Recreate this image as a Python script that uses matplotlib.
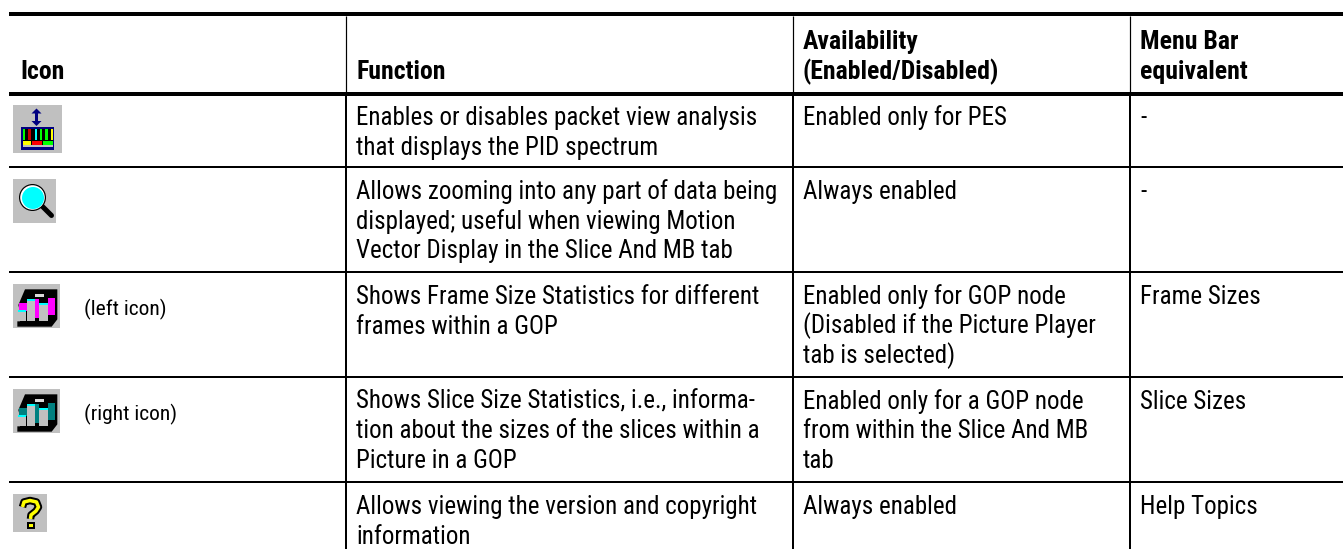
import matplotlib
matplotlib.use("Agg")
import matplotlib.pyplot as plt
from matplotlib.patches import Rectangle, Circle, Polygon

FONT = ['Roboto Condensed', 'Roboto', 'Liberation Sans']

headers = ["Icon", "Function", "Availability\n(Enabled/Disabled)", "Menu Bar\nequivalent"]
functions = [
    ["Enables or disables packet view analysis", "that displays the PID spectrum"],
    ["Allows zooming into any part of data being", "displayed; useful when viewing Motion", "Vector Display in the Slice And MB tab"],
    ["Shows Frame Size Statistics for different", "frames within a GOP"],
    ["Shows Slice Size Statistics, i.e., informa-", "tion about the sizes of the slices within a", "Picture in a GOP"],
    ["Allows viewing the version and copyright", "information"],
]
availability = [
    ["Enabled only for PES"],
    ["Always enabled"],
    ["Enabled only for GOP node", "(Disabled if the Picture Player", "tab is selected)"],
    ["Enabled only for a GOP node", "from within the Slice And MB", "tab"],
    ["Always enabled"],
]
menu = ["-", "-", "Frame Sizes", "Slice Sizes", "Help Topics"]
icon_notes = ["", "", "(left icon)", "(right icon)", ""]

fig = plt.figure(figsize=(13.43, 5.49), dpi=100)
ax = fig.add_axes([0, 0, 1, 1])
ax.set_xlim(0, 1343); ax.set_ylim(549, 0); ax.axis('off')
px = 0.72
FS = 25 * px
FSB = 25.7 * px

def hline(y, lw): ax.plot([9, 1343], [y, y], color='k', lw=lw * px, solid_capstyle='butt')
def vline(x, y0, y1, lw): ax.plot([x, x], [y0, y1], color='k', lw=lw * px, solid_capstyle='butt')
def rect(x0, y0, x1, y1, c, z=2):
    ax.add_patch(Rectangle((x0, y0), x1 - x0, y1 - y0, fc=c, ec='none', zorder=z))
def poly(pts, c, z=2):
    ax.add_patch(Polygon(pts, closed=True, fc=c, ec='none', zorder=z))

hline(14, 4); hline(94, 4)
for y in [166.7, 271.7, 376.7, 481.7]:
    hline(y, 2)
for x in [346, 793.3, 1129.5]:
    vline(x, 16, 92, 1.2)
    vline(x, 96, 549, 2)

row_base = [125, 199, 304, 409, 514]
step = 29.5
for i, r in enumerate(row_base):
    for j, s in enumerate(functions[i]):
        ax.text(356, r + j * step, s, family=FONT, fontsize=FS, va='baseline', color='k')
    for j, s in enumerate(availability[i]):
        ax.text(803, r + j * step, s, family=FONT, fontsize=FS, va='baseline', color='k')
    ax.text(1140, r, menu[i], family=FONT, fontsize=FS, va='baseline', color='k')
    if icon_notes[i]:
        ax.text(84, r + 11, icon_notes[i], family=FONT, fontsize=21.5 * px, va='baseline', color='k')

ax.text(20, 79, headers[0], family=FONT, fontsize=FSB, weight='bold', va='baseline')
ax.text(356, 79, headers[1], family=FONT, fontsize=FSB, weight='bold', va='baseline')
for x, h in [(803, headers[2]), (1140, headers[3])]:
    for j, s in enumerate(h.split("\n")):
        ax.text(x, 49 + j * 30, s, family=FONT, fontsize=FSB, weight='bold', va='baseline')

GREY = '#c0c0c0'
NAVY = '#000080'

# icon 1: packet view
rect(13, 105, 62, 153, GREY)
rect(35, 112, 38, 123, NAVY, 3)
poly([(31.5, 113.5), (36.5, 108.5), (41.5, 113.5)], NAVY, 3)
poly([(31.5, 121), (36.5, 126), (41.5, 121)], NAVY, 3)
rect(20.7, 126.5, 54.3, 149.5, NAVY, 3)
rect(22.5, 129, 53, 146, 'k', 4)
for x0, x1, c in [(22.5, 25, '#00ff00'), (28, 31, '#c00000'), (34.5, 36.5, '#00ffff'),
                  (39.5, 42, '#00ff00'), (45, 47.5, '#00ff00'), (50.5, 53, '#ffff00')]:
    rect(x0, 129, x1, 139.5, c, 5)
for x0, x1, c in [(22.5, 31, '#ffff00'), (31.5, 42, '#ff0000'), (43, 53, '#00ff00')]:
    rect(x0, 140.5, x1, 145, c, 5)
rect(22.5, 145, 53, 146.5, GREY, 5)

# icon 2: magnifier
rect(13, 179, 56, 223, GREY)
ax.plot([41, 51.5], [205, 215.5], color='k', lw=5 * px, solid_capstyle='round', zorder=3)
ax.add_patch(Circle((32.5, 197.5), 13.5, fc='k', ec='none', zorder=4))
ax.add_patch(Circle((32.5, 197.5), 12.3, fc='white', ec='none', zorder=5))
ax.add_patch(Circle((33, 198), 11, fc='#00ffff', ec='none', zorder=6))

# icons 3 and 4: bar statistics
def bars(top, accent):
    def P(x, y): return (10 + x / 3, top + y / 3)
    rect(13, top + 4, 60, top + 48, GREY)
    poly([P(45, 28), P(142, 28), P(142, 118), P(125, 140), P(22, 140), P(22, 124),
          P(30, 124), P(30, 95), P(25, 75)], 'k', 3)
    rect(*P(76, 42), *P(102, 50), '#d8d8d8', 4)
    for box in [(28, 68, 52, 92), (76, 56, 86, 115), (114, 55, 134, 105)]:
        rect(*P(box[0], box[1]), *P(box[2], box[3]), accent, 4)
    for box in [(24, 96, 48, 124), (52, 62, 76, 124), (86, 74, 114, 124)]:
        rect(*P(box[0], box[1]), *P(box[2], box[3]), GREY, 5)
    for box in [(25, 90, 48, 96), (52, 56, 76, 62), (86, 68, 114, 74)]:
        rect(*P(box[0], box[1]), *P(box[2], box[3]), '#00ffff', 5)

bars(280, '#ff00ff')
bars(385, '#008080')

# icon 5: help
rect(13, 494, 47, 532, GREY)
qx = [22.5, 24, 30, 36.5, 38.5, 36, 31, 30.5]
qy = [507, 502, 500.5, 502, 507, 511, 515, 519]
ax.plot(qx, qy, color='k', lw=7.5 * px, zorder=3, solid_capstyle='butt')
ax.plot(qx, qy, color='#ffff00', lw=3.5 * px, zorder=4, solid_capstyle='butt')
rect(27, 522, 34.5, 528.5, 'k', 3)
rect(28.7, 523.5, 32.8, 527, '#ffff00', 4)

fig.savefig("out.png", dpi=100)
